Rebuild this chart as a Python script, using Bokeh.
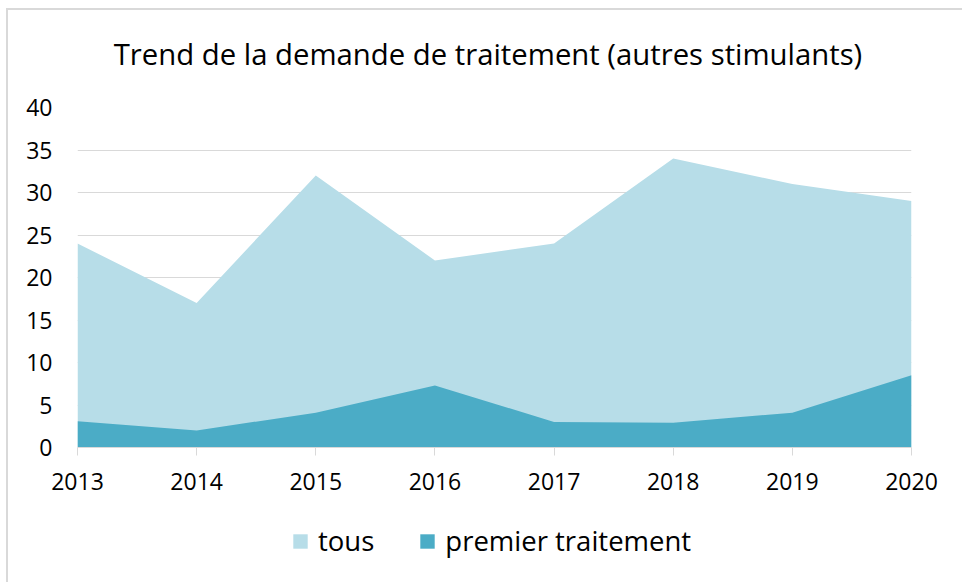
from bokeh.plotting import figure
from bokeh.layouts import column
from bokeh.models import Legend, LegendItem, ColumnDataSource, FixedTicker, Range1d, Label
from bokeh.embed import file_html
from bokeh.resources import INLINE

years = [2013, 2014, 2015, 2016, 2017, 2018, 2019, 2020]
tous = [24, 17, 32, 22, 24, 34, 31, 29]
premier = [3.1, 2.0, 4.1, 7.3, 3.0, 2.9, 4.1, 8.5]
y_ticks = [0, 5, 10, 15, 20, 25, 30, 35, 40]

title_text = "Trend de la demande de traitement (autres stimulants)"
FONT = "Open Sans"
C_TOUS = "#b7dde8"
C_PREM = "#4bacc6"
W = 954
ML, MR = 69, 51


def blank(height):
    f = figure(width=W, height=height, output_backend="svg", toolbar_location=None,
               x_range=Range1d(0, 1), y_range=Range1d(0, 1),
               x_axis_location=None, y_axis_location=None,
               min_border_left=ML, min_border_right=MR, min_border_top=0, min_border_bottom=0)
    f.grid.visible = False
    f.outline_line_color = None
    f.border_fill_color = "white"
    f.background_fill_color = "white"
    return f


src = ColumnDataSource(dict(x=years, tous=tous, premier=premier, zero=[0] * len(years)))

# title strip
tf = blank(80)
tf.add_layout(Label(x=410.5, y=37, x_units="screen", y_units="screen", text=title_text,
                    text_font=FONT, text_font_size="29.3px", text_color="#000000",
                    text_align="center", text_baseline="middle"))

# main chart
p = figure(width=W, height=417, output_backend="svg", toolbar_location=None,
           x_range=Range1d(2013, 2020), y_range=Range1d(0, 40),
           min_border_left=ML, min_border_right=MR, min_border_top=17, min_border_bottom=60)

p.varea(x="x", y1="zero", y2="tous", source=src, fill_color=C_TOUS)
p.varea(x="x", y1="zero", y2="premier", source=src, fill_color=C_PREM)

p.outline_line_color = None
p.background_fill_color = "white"
p.border_fill_color = "white"

p.xgrid.grid_line_color = None
p.ygrid.grid_line_color = "#d9d9d9"
p.ygrid.grid_line_width = 1
p.ygrid.ticker = FixedTicker(ticks=y_ticks)

p.yaxis.ticker = FixedTicker(ticks=y_ticks)
p.yaxis.axis_line_color = None
p.yaxis.major_tick_line_color = None
p.yaxis.minor_tick_line_color = None
p.yaxis.major_label_text_font = FONT
p.yaxis.major_label_text_font_size = "23px"
p.yaxis.major_label_text_color = "#000000"
p.yaxis.major_label_standoff = 19

p.xaxis.ticker = FixedTicker(ticks=years)
p.xaxis.axis_line_color = "#d9d9d9"
p.xaxis.axis_line_width = 1
p.xaxis.major_tick_line_color = "#d9d9d9"
p.xaxis.major_tick_in = 0
p.xaxis.major_tick_out = 8
p.xaxis.minor_tick_line_color = None
p.xaxis.major_label_text_font = FONT
p.xaxis.major_label_text_font_size = "23px"
p.xaxis.major_label_text_color = "#000000"
p.xaxis.major_label_standoff = 17

# legend strip
lf = blank(75)
l1 = lf.varea(x="x", y1="zero", y2="tous", source=src, fill_color=C_TOUS)
l2 = lf.varea(x="x", y1="zero", y2="premier", source=src, fill_color=C_PREM)
legend = Legend(items=[LegendItem(label="tous", renderers=[l1]),
                       LegendItem(label="premier traitement", renderers=[l2])],
                location=(214, 23), orientation="horizontal",
                padding=0, margin=0, spacing=44,
                glyph_width=18, glyph_height=18, label_standoff=9,
                label_text_font=FONT, label_text_font_size="27.5px",
                label_text_color="#000000",
                border_line_color=None, background_fill_alpha=0)
lf.add_layout(legend, "center")

layout = column(tf, p, lf, spacing=0,
                styles={"margin-left": "6px", "margin-top": "8px",
                        "border-left": "2px solid #d9d9d9", "border-top": "2px solid #d9d9d9"})

open("out.html", "w").write(file_html(layout, INLINE))
